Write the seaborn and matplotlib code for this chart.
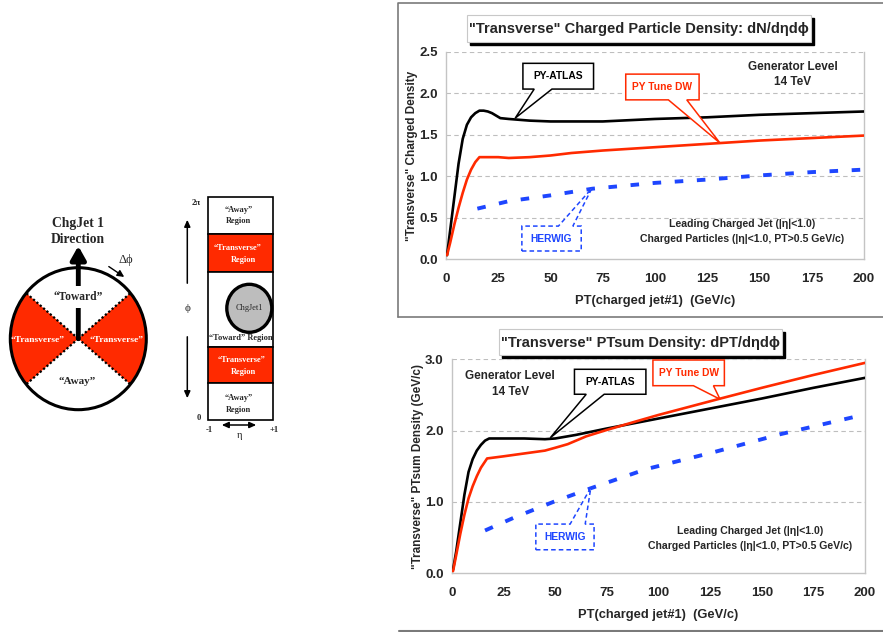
import numpy as np
import pandas as pd
import matplotlib
matplotlib.use("Agg")
import matplotlib.pyplot as plt
import seaborn as sns
from matplotlib.patches import Rectangle, Polygon, Ellipse

# ---------------------------------------------------------------
# data
# top: "Transverse" charged particle density
top_pt_atlas = [0.5, 2, 4, 6, 8, 10, 12, 14, 16, 18, 20, 22, 24, 26, 30, 35, 40, 50, 60, 75, 100, 125, 150, 175, 200]
top_dens_atlas = [0.05, 0.35, 0.75, 1.15, 1.45, 1.62, 1.71, 1.76, 1.79, 1.79, 1.78, 1.76, 1.73, 1.70, 1.69, 1.68, 1.67, 1.66, 1.66, 1.66, 1.69, 1.71, 1.74, 1.76, 1.78]
top_pt_dw = [0.5, 2, 4, 6, 8, 10, 12, 14, 16, 20, 25, 30, 40, 50, 60, 75, 100, 125, 150, 175, 200]
top_dens_dw = [0.05, 0.2, 0.42, 0.62, 0.8, 0.96, 1.08, 1.17, 1.23, 1.23, 1.23, 1.22, 1.23, 1.25, 1.28, 1.31, 1.35, 1.39, 1.43, 1.46, 1.49]
top_pt_herwig = [15, 30, 50, 70, 100, 125, 150, 175, 200]
top_dens_herwig = [0.61, 0.70, 0.77, 0.85, 0.92, 0.96, 1.01, 1.05, 1.08]

# bottom: "Transverse" PTsum density
bot_pt_atlas = [0.5, 2, 4, 6, 8, 10, 12, 14, 16, 18, 25, 35, 45, 50, 60, 75, 100, 125, 150, 175, 200]
bot_sum_atlas = [0.05, 0.3, 0.7, 1.1, 1.42, 1.6, 1.72, 1.8, 1.86, 1.89, 1.89, 1.89, 1.88, 1.89, 1.94, 2.03, 2.17, 2.31, 2.45, 2.60, 2.74]
bot_pt_dw = [0.5, 2, 4, 6, 8, 10, 12, 14, 17, 25, 35, 45, 50, 56, 65, 75, 88, 100, 130, 150, 175, 200]
bot_sum_dw = [0.03, 0.25, 0.55, 0.82, 1.05, 1.22, 1.36, 1.48, 1.61, 1.64, 1.68, 1.72, 1.76, 1.81, 1.92, 2.01, 2.12, 2.22, 2.45, 2.60, 2.78, 2.95]
bot_pt_herwig = [16, 30, 49, 67, 94, 127, 159, 196]
bot_sum_herwig = [0.6, 0.78, 1.0, 1.19, 1.46, 1.70, 1.95, 2.20]

x_ticks = [0, 25, 50, 75, 100, 125, 150, 175, 200]
RED = "#FF2A00"
BLUE = "#1E46FF"
GRID = "#BEBEBE"

sns.set_style("white")
plt.rcParams["font.family"] = ["Liberation Sans", "DejaVu Sans"]

fig = plt.figure(figsize=(8.83, 6.32), dpi=100)

# background axes in pixel units for the sketches and frames
ax0 = fig.add_axes([0, 0, 1, 1])
ax0.set_xlim(0, 883)
ax0.set_ylim(632, 0)
ax0.axis("off")

# ---- panel frames
ax0.plot([398, 398, 883], [316.5, 2.5, 2.5], color="#7A7A7A", lw=1.2)
ax0.plot([398, 883], [316.5, 316.5], color="#7A7A7A", lw=1.2)
ax0.plot([399, 883], [631, 631], color="#7A7A7A", lw=1.5)


def title_box(x0, x1, y0, y1, text):
    ax0.add_patch(Rectangle((x0 + 3, y0 + 3), x1 - x0, y1 - y0, color="black", zorder=2))
    ax0.add_patch(Rectangle((x0, y0), x1 - x0, y1 - y0, facecolor="white",
                            edgecolor="#C8C8C8", lw=0.8, zorder=3))
    ax0.text((x0 + x1) / 2, (y0 + y1) / 2 + 1, text, ha="center", va="center",
             fontsize=10.5, fontweight="bold", zorder=4)


title_box(467, 811, 15, 42, "\"Transverse\" Charged Particle Density: dN/d\u03b7d\u03d5")
title_box(499, 782, 329, 355, "\"Transverse\" PTsum Density: dPT/d\u03b7d\u03d5")

# ---- left sketch: circle with regions
serif = ["Liberation Serif", "DejaVu Serif"]
cx, cy, rx, ry = 78.3, 338.7, 68, 71
for a0 in (-40, 140):
    t = np.radians(np.linspace(a0, a0 + 80, 40))
    pts = np.column_stack([cx + rx * np.cos(t), cy - ry * np.sin(t)])
    pts = np.vstack([[cx, cy], pts])
    ax0.add_patch(Polygon(pts, closed=True, facecolor=RED, edgecolor="none", zorder=2))
for a in (40, -40, 140, 220):
    t = np.radians(a)
    ax0.plot([cx, cx + rx * np.cos(t)], [cy, cy - ry * np.sin(t)], color="black",
             lw=1.6, ls=(0, (1, 1)), zorder=3)
ax0.add_patch(Ellipse((cx, cy), 2 * rx, 2 * ry, facecolor="none", edgecolor="black", lw=2.2, zorder=4))
ax0.annotate("", xy=(cx, 246), xytext=(cx, cy),
             arrowprops=dict(arrowstyle="-|>,head_width=0.45,head_length=0.8", lw=3.5,
                             color="black", shrinkA=0, shrinkB=0), zorder=5)
ax0.text(cx, 297, "\u201cToward\u201d", ha="center", va="center", fontsize=8.3, fontweight="bold",
         family=serif, zorder=6,
         bbox=dict(facecolor="white", edgecolor="none", pad=3.5))
ax0.text(37.5, 339.5, "\u201cTransverse\u201d", ha="center", va="center", fontsize=6.8,
         fontweight="bold", family=serif, color="white", zorder=6)
ax0.text(116, 339.5, "\u201cTransverse\u201d", ha="center", va="center", fontsize=6.8,
         fontweight="bold", family=serif, color="white", zorder=6)
ax0.text(77.3, 381.5, "\u201cAway\u201d", ha="center", va="center", fontsize=8,
         fontweight="bold", family=serif, zorder=6)
ax0.text(78, 223.5, "ChgJet 1", ha="center", va="center", fontsize=9.8, fontweight="bold", family=serif)
ax0.text(78, 239.5, "Direction", ha="center", va="center", fontsize=9.8, fontweight="bold", family=serif)
ax0.text(126, 259.5, "\u0394\u03d5", ha="center", va="center", fontsize=9, family=serif)
ax0.annotate("", xy=(126.5, 278.5), xytext=(106.5, 265),
             arrowprops=dict(arrowstyle="-|>,head_width=0.2,head_length=0.4", lw=1.0, color="black"))

# ---- eta-phi rectangle
bx0, bx1 = 208.3, 272.7
bands = [(197.3, 234.0, "white"), (234.0, 271.7, RED), (271.7, 346.7, "white"),
         (346.7, 383.3, RED), (383.3, 420.0, "white")]
for y0, y1, c in bands:
    ax0.add_patch(Rectangle((bx0, y0), bx1 - bx0, y1 - y0, facecolor=c, edgecolor="black", lw=1.2, zorder=2))
ax0.add_patch(Ellipse((249.3, 308.3), 45, 48, facecolor="#BDBDBD", edgecolor="black", lw=2.4, zorder=3))
ax0.text(249.3, 308.3, "ChgJet1", ha="center", va="center", fontsize=6, family=serif, zorder=4)
small = dict(ha="center", va="center", fontsize=6, fontweight="bold", family=serif, zorder=4)
ax0.text(238.5, 210, "\u201cAway\u201d", **small)
ax0.text(238.5, 221, "Region", **small)
ax0.text(238, 248.5, "\u201cTransverse\u201d", color="white", **small)
ax0.text(243.5, 260.5, "Region", color="white", **small)
ax0.text(240.5, 338.5, "\u201cToward\u201d Region", **small)
ax0.text(242, 360.5, "\u201cTransverse\u201d", color="white", **small)
ax0.text(243.5, 372.5, "Region", color="white", **small)
ax0.text(238.5, 398.5, "\u201cAway\u201d", **small)
ax0.text(238.5, 409.5, "Region", **small)
ax0.text(196, 203, "2\u03c0", ha="center", va="center", fontsize=6.2, fontweight="bold", family=serif)
ax0.text(198.5, 418.5, "0", ha="center", va="center", fontsize=6.2, fontweight="bold", family=serif)
ax0.text(209.5, 429.5, "-1", ha="center", va="center", fontsize=6.2, fontweight="bold", family=serif)
ax0.text(274.5, 429.5, "+1", ha="center", va="center", fontsize=6.2, fontweight="bold", family=serif)
ax0.text(240, 435.5, "\u03b7", ha="center", va="center", fontsize=7.5, family=serif)
ax0.text(187.3, 308.3, "\u03d5", ha="center", va="center", fontsize=8, family=serif)
arr = dict(arrowstyle="-|>,head_width=0.18,head_length=0.4", lw=1.1, color="black")
ax0.annotate("", xy=(187.3, 217), xytext=(187.3, 286), arrowprops=arr)
ax0.annotate("", xy=(187.3, 401), xytext=(187.3, 334), arrowprops=arr)
ax0.annotate("", xy=(219, 425), xytext=(259, 425),
             arrowprops=dict(arrowstyle="<|-|>,head_width=0.18,head_length=0.4", lw=1.1, color="black"))


# ---------------------------------------------------------------
def callout(ax, box, bases, tip, text, color, dashed=False, tail_top=False):
    x0, x1, yb, yt = box
    ba, bb = bases
    if tail_top:
        pts = [(x0, yb), (x1, yb), (x1, yt), (bb, yt), tip, (ba, yt), (x0, yt)]
    else:
        pts = [(x0, yt), (x1, yt), (x1, yb), (bb, yb), tip, (ba, yb), (x0, yb)]
    ls = (0, (3, 2)) if dashed else "-"
    ax.add_patch(Polygon(pts, closed=True, facecolor="white", edgecolor=color,
                         lw=1.1, ls=ls, zorder=6, clip_on=False))
    ax.text((x0 + x1) / 2, (yb + yt) / 2, text, ha="center", va="center",
            fontsize=7.4, fontweight="bold", color=color, zorder=7)


def setup(ax, ymax, yticks, ylabel, xpad):
    ax.set_xlim(0, 200)
    ax.set_ylim(0, ymax)
    ax.set_xticks(x_ticks)
    ax.set_yticks(yticks)
    ax.set_yticklabels(["%.1f" % v for v in yticks])
    for v in yticks[1:]:
        ax.axhline(v, color=GRID, lw=0.8, ls=(0, (4, 3)), zorder=1)
    for s in ("left", "right", "bottom"):
        ax.spines[s].set_visible(True)
        ax.spines[s].set_color("#C4C4C4")
        ax.spines[s].set_linewidth(1.0)
    ax.spines["top"].set_visible(False)
    ax.tick_params(axis="x", direction="in", length=5, color="#C4C4C4", pad=10,
                   labelsize=9.5)
    ax.tick_params(axis="y", direction="out", length=4, color="#C4C4C4", pad=2,
                   labelsize=9.5)
    for lab in ax.get_xticklabels() + ax.get_yticklabels():
        lab.set_fontweight("bold")
    ax.set_xlabel("PT(charged jet#1)  (GeV/c)", fontsize=9.3, fontweight="bold", labelpad=xpad)
    ax.set_ylabel(ylabel, fontsize=8.5, fontweight="bold", labelpad=1)
    ax.set_facecolor("none")


# ---- top chart
ax1 = fig.add_axes([446 / 883, 1 - 259.3 / 632, 418 / 883, 207.6 / 632])
top_atlas = pd.DataFrame({"pt": top_pt_atlas, "val": top_dens_atlas})
top_dw = pd.DataFrame({"pt": top_pt_dw, "val": top_dens_dw})
top_hw = pd.DataFrame({"pt": top_pt_herwig, "val": top_dens_herwig})
sns.lineplot(data=top_atlas, x="pt", y="val", ax=ax1, color="black", lw=1.9, zorder=4)
sns.lineplot(data=top_dw, x="pt", y="val", ax=ax1, color=RED, lw=1.9, zorder=4)
sns.lineplot(data=top_hw, x="pt", y="val", ax=ax1, color=BLUE, lw=2.8,
             linestyle=(0, (2.2, 3.5)), zorder=4)
setup(ax1, 2.5, [0.0, 0.5, 1.0, 1.5, 2.0, 2.5], "\"Transverse\" Charged Density", 7)
callout(ax1, (36.8, 70.6, 2.05, 2.36), (42.2, 50.7), (33.1, 1.70), "PY-ATLAS", "black")
callout(ax1, (86.0, 121.1, 1.92, 2.23), (106.4, 115.2), (131.1, 1.40), "PY Tune DW", RED)
callout(ax1, (36.3, 64.7, 0.10, 0.40), (53.8, 60.7), (69.8, 0.855), "HERWIG", BLUE,
        dashed=True, tail_top=True)
ax1.text(165.9, 2.32, "Generator Level", ha="center", va="center", fontsize=8.5, fontweight="bold")
ax1.text(165.9, 2.14, "14 TeV", ha="center", va="center", fontsize=8.5, fontweight="bold")
ax1.text(141.5, 0.42, "Leading Charged Jet (|\u03b7|<1.0)", ha="center", va="center",
         fontsize=7.6, fontweight="bold")
ax1.text(141.5, 0.24, "Charged Particles (|\u03b7|<1.0, PT>0.5 GeV/c)", ha="center", va="center",
         fontsize=7.6, fontweight="bold")

# ---- bottom chart
ax2 = fig.add_axes([452 / 883, 1 - 573.3 / 632, 413 / 883, 214 / 632])
bot_atlas = pd.DataFrame({"pt": bot_pt_atlas, "val": bot_sum_atlas})
bot_dw = pd.DataFrame({"pt": bot_pt_dw, "val": bot_sum_dw})
bot_hw = pd.DataFrame({"pt": bot_pt_herwig, "val": bot_sum_herwig})
sns.lineplot(data=bot_atlas, x="pt", y="val", ax=ax2, color="black", lw=1.9, zorder=4)
sns.lineplot(data=bot_dw, x="pt", y="val", ax=ax2, color=RED, lw=1.9, zorder=4)
sns.lineplot(data=bot_hw, x="pt", y="val", ax=ax2, color=BLUE, lw=2.8,
             linestyle=(0, (2.2, 3.5)), zorder=4)
setup(ax2, 3.0, [0.0, 1.0, 2.0, 3.0], "\"Transverse\" PTsum Density (GeV/c)", 7)
callout(ax2, (59.3, 93.9, 2.51, 2.86), (65.0, 73.7), (47.6, 1.90), "PY-ATLAS", "black")
callout(ax2, (97.3, 131.9, 2.63, 2.99), (116.9, 126.6), (129.8, 2.44), "PY Tune DW", RED)
callout(ax2, (40.6, 68.8, 0.33, 0.69), (57.2, 64.5), (67.2, 1.20), "HERWIG", BLUE,
        dashed=True, tail_top=True)
ax2.text(28.2, 2.76, "Generator Level", ha="center", va="center", fontsize=8.5, fontweight="bold")
ax2.text(28.2, 2.54, "14 TeV", ha="center", va="center", fontsize=8.5, fontweight="bold")
ax2.text(144.3, 0.59, "Leading Charged Jet (|\u03b7|<1.0)", ha="center", va="center",
         fontsize=7.6, fontweight="bold")
ax2.text(144.3, 0.38, "Charged Particles (|\u03b7|<1.0, PT>0.5 GeV/c)", ha="center", va="center",
         fontsize=7.6, fontweight="bold")

fig.savefig("out.png", dpi=100)
